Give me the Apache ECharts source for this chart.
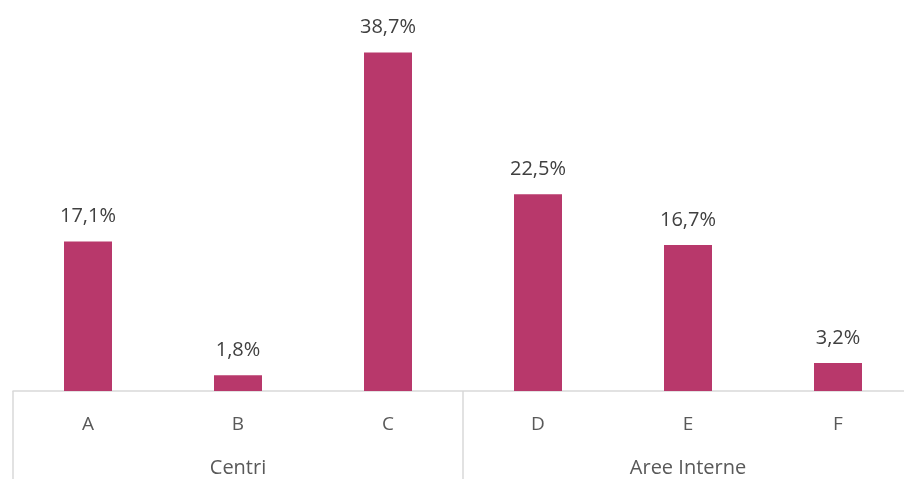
<!DOCTYPE html>
<html>
<head>
<meta charset="utf-8">
<script src="https://cdn.jsdelivr.net/npm/echarts@6/dist/echarts.min.js"></script>
<style>
  html, body { margin: 0; padding: 0; background: #fff; }
  #chart { width: 904px; height: 479px; }
</style>
</head>
<body>
<div id="chart"></div>
<script>
var categories = ['A', 'B', 'C', 'D', 'E', 'F']
var groups = ['Centri', 'Aree Interne']
var values = [17.1, 1.8, 38.7, 22.5, 16.7, 3.2]

var chart = echarts.init(document.getElementById('chart'))
var font = 'Open Sans, Noto Sans, sans-serif'

var option = {
  animation: false,
  grid: {
    // plot runs past the right edge like the original
    left: 13,
    top: 41,
    width: 900,
    height: 350,
    outerBoundsMode: 'none'
  },
  xAxis: [
    {
      type: 'category',
      data: categories,
      position: 'bottom',
      axisLine: { show: true, lineStyle: { color: '#d9d9d9', width: 1.5 } },
      axisTick: { show: false },
      axisLabel: { color: '#595959', fontSize: 19, fontFamily: font, margin: 24 }
    },
    {
      type: 'category',
      data: groups,
      position: 'bottom',
      axisLine: { show: false },
      axisTick: { show: true, length: 90, interval: 0, lineStyle: { color: '#d9d9d9', width: 1.5 } },
      axisLabel: { color: '#595959', fontSize: 20, fontFamily: font, margin: 67 }
    }
  ],
  yAxis: {
    type: 'value',
    min: 0,
    max: 40,
    show: false,
    splitLine: { show: false }
  },
  series: [
    {
      type: 'bar',
      xAxisIndex: 0,
      data: values,
      barWidth: 48,
      itemStyle: { color: '#B8386B' },
      label: {
        show: true,
        position: 'top',
        distance: 15,
        color: '#404040',
        fontSize: 20,
        fontFamily: font,
        formatter: function (p) {
          return p.value.toFixed(1).replace('.', ',') + '%'
        }
      }
    }
  ]
}
chart.setOption(option)
</script>
</body>
</html>
